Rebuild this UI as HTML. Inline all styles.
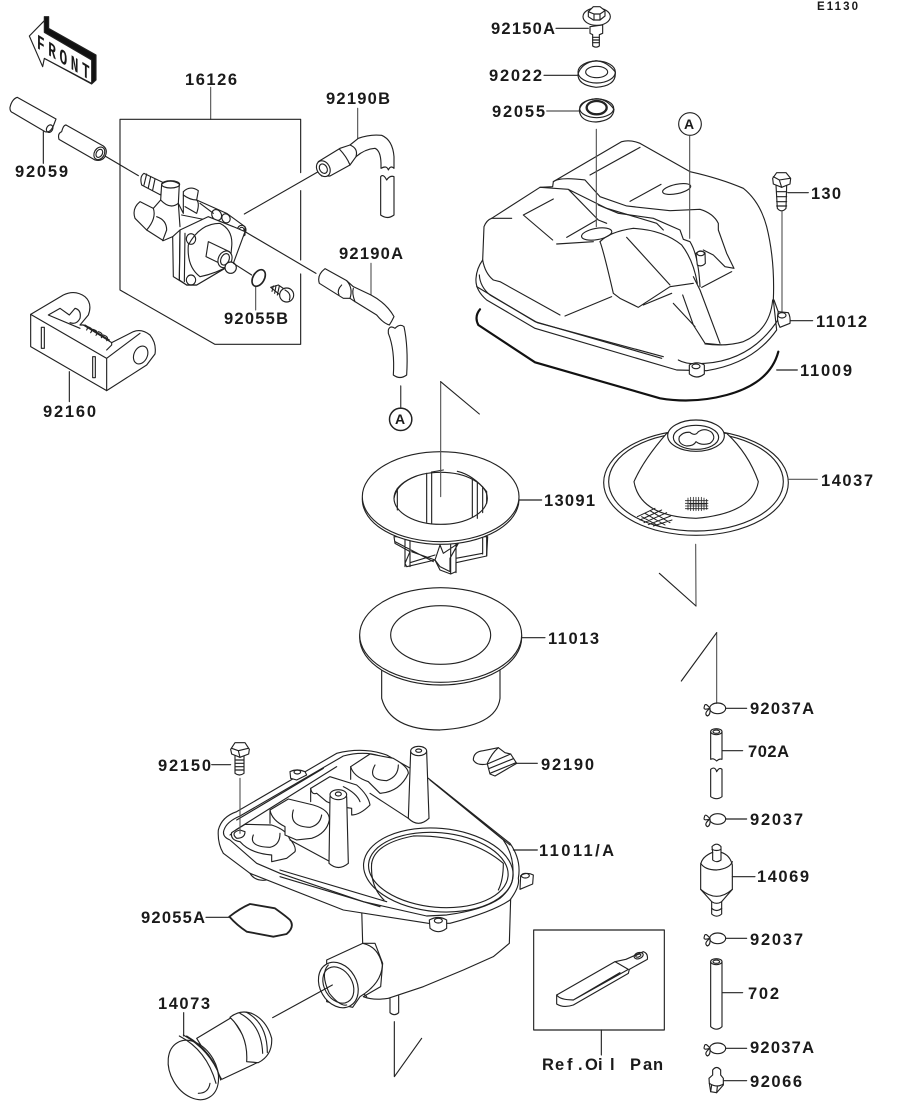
<!DOCTYPE html>
<html><head><meta charset="utf-8"><style>
html,body{margin:0;padding:0;background:#fff;width:914px;height:1103px;overflow:hidden}
svg{display:block}
text{font-family:"Liberation Sans",sans-serif;font-weight:bold;font-size:16.5px;fill:#1a1a1a}
.z path,.z ellipse,.z line,.z polyline,.z polygon,.z rect,.z circle{stroke:#222;stroke-width:3.4;stroke-linecap:round;stroke-linejoin:round}
.z path,.z polyline{fill:none}
.z .w{fill:#fff}
.z .n{fill:none}
.z .g{stroke:#555}
.z .k{stroke:#111;stroke-width:6.5}
</style></head><body>
<svg width="914" height="1103" viewBox="0 0 914 1103" xmlns="http://www.w3.org/2000/svg">
<rect width="914" height="1103" fill="#fff"/>

<g class="z" transform="scale(.33333)">
<!-- FRONT arrow -->
<polygon points="133,50 146,50 146,85 288,165 288,240 275,252 133,175" fill="#111"/>
<polygon class="w" points="88,108 133,62 133,97 275,180 275,250 133,175 128,200"/>
<!-- box + leaders -->
<polyline class="g" points="632,262 632,358"/>
<polyline points="902,518 902,358 360,358 360,870 645,1033 902,1033 902,822"/>
<line x1="902" y1="572" x2="902" y2="780"/>
<line x1="130" y1="395" x2="130" y2="490"/>
<line x1="315" y1="468" x2="415" y2="527"/>
<line x1="955" y1="515" x2="733" y2="642"/>
<line x1="735" y1="695" x2="948" y2="820"/>
<line x1="1073" y1="325" x2="1073" y2="415" class="g"/>
<line x1="1113" y1="790" x2="1113" y2="885" class="g"/>
<line x1="767" y1="860" x2="767" y2="930" class="g"/>
<line x1="1202" y1="1158" x2="1202" y2="1225"/>
<line x1="208" y1="1115" x2="208" y2="1205"/>
<!-- 92059 tube -->
<path d="M168,357 L52,292 Q36,297 30,322 Q29,335 38,338 L135,395 Q150,400 160,378 L168,357"/>
<ellipse class="n" cx="149" cy="386" rx="9" ry="12" transform="rotate(30 149 386)"/>
<path d="M198,375 L310,438 Q325,450 315,470 Q305,485 285,480 L177,418 Q172,400 185,395 Q190,375 198,375"/>
<ellipse class="n" cx="298" cy="460" rx="15" ry="20" transform="rotate(30 298 460)"/>
<ellipse class="n" cx="298" cy="460" rx="9" ry="13" transform="rotate(30 298 460)"/>
<!-- pump -->
<path class="w" d="M432,520 L490,548 L482,585 L425,555 Q418,530 432,520Z"/>
<path d="M440,522 L432,555 M452,530 L445,563 M465,537 L458,570"/>
<path class="w" d="M550,575 Q570,555 595,572 L590,600 L680,640 L735,680 L735,705 L700,730 L700,790 L590,855 L560,855 L520,830 L518,710 L490,722 L440,690 L405,655 Q395,625 420,605 L460,625 L482,600 L485,552 Q510,535 538,552 L535,610 L550,640Z"/>
<ellipse class="n" cx="512" cy="553" rx="27" ry="11"/>
<path d="M482,600 Q510,630 535,610 M460,625 Q470,655 440,690 M470,650 Q500,660 500,690 L488,722 M535,610 L540,680"/>
<path d="M550,585 Q570,600 590,600 M555,620 L590,640 Q600,610 590,600 M600,610 L640,640 M545,645 L620,660"/>
<ellipse class="n" cx="650" cy="645" rx="14" ry="17" transform="rotate(-30 650 645)"/>
<ellipse class="n" cx="678" cy="655" rx="12" ry="14" transform="rotate(-30 678 655)"/>
<ellipse class="n" cx="725" cy="690" rx="13" ry="14"/>
<ellipse class="n" cx="725" cy="690" rx="7" ry="8"/>
<path class="w" d="M540,690 L625,650 L700,680 L735,695 L700,790 L590,855 L560,855 L538,840Z"/>
<path d="M518,710 L540,690 M540,690 L538,840 M555,700 L553,845"/>
<path class="w" d="M565,735 Q600,670 660,670 Q700,690 695,740 L690,795 Q650,820 600,830 Q560,800 565,735Z"/>
<ellipse class="n" cx="573" cy="717" rx="14" ry="16"/>
<ellipse class="n" cx="573" cy="840" rx="14" ry="15"/>
<path class="w" d="M625,725 L688,755 L680,800 L618,770Z"/>
<ellipse class="w" cx="675" cy="778" rx="20" ry="26" transform="rotate(25 675 778)"/>
<ellipse class="n" cx="675" cy="778" rx="12" ry="18" transform="rotate(25 675 778)"/>
<circle class="w" cx="692" cy="803" r="17"/>
<line x1="700" y1="790" x2="755" y2="825"/>
<!-- 92055B -->
<ellipse class="n" cx="776" cy="834" rx="17" ry="27" transform="rotate(30 776 834)" style="stroke-width:5"/>
<path class="w" d="M812,862 L835,855 L860,872 L840,885 Z"/>
<path d="M820,858 L816,874 M828,857 L824,880 M838,858 L832,885"/>
<circle class="w" cx="860" cy="885" r="21"/>
<path d="M855,870 Q875,880 868,900"/>
<!-- 92190B -->
<path class="w" d="M1182,505 L1182,470 Q1178,420 1145,406 Q1110,402 1075,415 L1050,435 L1020,445 L955,485 Q945,505 965,528 L990,528 L1050,495 L1068,470 Q1095,447 1125,445 Q1142,452 1143,490 L1143,505 Q1160,495 1165,510 Q1172,495 1182,505Z"/>
<ellipse class="w" cx="970" cy="506" rx="19" ry="25" transform="rotate(-30 970 506)"/>
<ellipse class="n" cx="970" cy="506" rx="11" ry="15" transform="rotate(-30 970 506)"/>
<path d="M1018,447 Q1040,470 1050,495 M1050,435 Q1075,445 1068,470"/>
<path class="w" d="M1142,530 Q1150,520 1160,540 Q1170,525 1182,530 L1182,645 Q1162,660 1142,645Z"/>
<!-- 92190A -->
<path class="w" d="M975,806 L1040,842 L1060,860 L1113,885 Q1160,910 1182,950 Q1175,965 1168,975 Q1150,970 1130,945 L1065,905 L1050,895 L1030,895 L958,850 Q950,825 975,806Z"/>
<path d="M1025,855 Q1010,870 1017,885 M1040,842 Q1060,865 1050,895 M1060,865 Q1055,880 1065,905"/>
<path class="w" d="M1165,990 Q1170,975 1185,985 Q1200,970 1212,980 Q1225,1040 1220,1125 Q1200,1140 1180,1125 Q1185,1050 1165,1000Z"/>
<!-- circle A -->
<circle class="n" cx="1202" cy="1258" r="34"/>
<!-- bracket 92160 -->
<path class="w" d="M92,943 L190,885 Q225,868 255,890 Q278,910 265,945 L240,975 L250,975 L335,1028 L400,995 Q425,985 450,1005 Q470,1030 465,1062 L440,1095 L320,1172 L92,1040Z"/>
<path d="M92,943 L320,1075 L320,1172 M320,1075 L420,1000 M145,945 L180,925 L208,945 L225,925 Q245,930 240,955 Q230,975 210,968 M145,945 L240,985 M335,1028 L335,1035 L320,1050 M255,975 L328,1020"/>
<ellipse class="n" cx="422" cy="1065" rx="20" ry="28" transform="rotate(25 422 1065)"/>
<path d="M248,975 Q268,978 260,990 M262,980 Q282,985 272,998 M278,988 Q298,993 288,1006 M295,995 Q312,1000 304,1013 M310,1005 Q328,1010 320,1022"/>
<rect class="n" x="124" y="982" width="9" height="63"/>
<rect class="n" x="278" y="1070" width="8" height="63"/>
</g>

<!-- zoom2: tank -->
<g class="z" transform="translate(460,0) scale(.33333)">
<line x1="288" y1="85" x2="385" y2="85"/>
<line x1="252" y1="226" x2="352" y2="226"/>
<line x1="260" y1="333" x2="358" y2="333" class="g"/>
<line x1="983" y1="578" x2="1045" y2="578"/>
<line x1="990" y1="962" x2="1058" y2="962"/>
<line x1="950" y1="1110" x2="1012" y2="1110"/>
<!-- bolt 92150A -->
<path class="w" d="M390,80 L390,100 L398,104 L398,138 Q408,145 418,138 L418,104 L428,100 L428,75Z"/>
<path d="M398,112 L418,112 M398,120 L418,120 M398,128 L418,128"/>
<ellipse class="w" cx="410" cy="50" rx="41" ry="26"/>
<path class="w" d="M385,35 L400,20 L420,20 L435,32 L435,48 L420,60 L400,60 L385,50Z"/>
<path d="M385,35 L402,42 L420,42 L435,32 M402,42 L402,60 M420,42 L420,60"/>
<!-- 92022 -->
<path class="w" d="M354,222 Q352,255 408,262 Q466,258 466,222 L466,216 Q440,184 408,182 Q365,188 354,222Z"/>
<ellipse class="n" cx="410" cy="216" rx="56" ry="33"/>
<ellipse class="n" cx="410" cy="216" rx="33" ry="17"/>
<!-- 92055 -->
<path class="w" d="M358,330 Q360,365 408,366 Q460,362 462,328 Q440,296 408,296 Q365,300 358,330Z"/>
<ellipse class="n" cx="410" cy="325" rx="51" ry="28"/>
<ellipse class="n" cx="410" cy="323" rx="30" ry="20" style="stroke-width:7"/>
<circle class="n" cx="690" cy="372" r="34"/>
<!-- bolt 130 -->
<path class="w" d="M948,555 L952,625 Q965,640 978,625 L980,555Z"/>
<path d="M950,575 L980,575 M950,590 L980,590 M950,605 L980,605 M950,618 L980,618"/>
<path class="w" d="M938,535 L950,518 L978,518 L992,535 L990,552 L965,562 L940,552Z"/>
<path d="M940,530 L958,540 L990,535 M958,540 L965,562"/>
<!-- tank -->
<path class="w" d="M68,780 L72,680 Q80,660 95,655 L240,562 L278,560 L280,545 L485,425 Q510,418 540,430 L690,515 Q780,535 850,565 Q900,605 920,680 Q945,780 940,900 L950,990 Q880,1090 740,1112 L650,1110 L225,985 L80,900 Q45,870 48,835 Q50,805 68,780Z"/>
<path d="M58,825 Q60,860 90,885 L232,968 L610,1070 M655,1080 Q680,1095 735,1090 Q880,1080 960,950 L942,900"/>
<path d="M68,780 Q75,820 100,840 L120,845 L300,945 M50,860 L225,965 L605,1075"/>
<path d="M735,1032 Q800,1040 850,1025 Q930,990 938,900"/>
<path d="M700,830 L720,870 L780,1030 M668,885 L700,975 L735,1030 L785,1035 M640,910 L705,980"/>
<path d="M280,545 Q300,530 375,540 L420,590 L500,618 L630,632 L720,628 Q760,640 775,670 L775,690 L800,760 L822,805 L795,800 L760,765 L730,750 M415,615 L475,640 L580,655 L660,690 L670,718 L690,725 Q715,765 720,860"/>
<path d="M95,655 L155,655 M240,562 L325,568 L415,660 L440,670 M325,568 L440,625 L590,670 L610,690"/>
<path d="M190,645 L278,720 M190,645 L280,597 M390,525 L540,442 M510,604 L603,553 M290,732 L400,725 M320,712 L410,660"/>
<path d="M420,725 Q430,750 460,880 L480,895 L535,922 L630,860 L700,850 M315,948 L455,890 M500,712 L630,855 M550,915 L635,880 M725,862 L815,815"/>
<path d="M420,725 Q450,695 520,685 Q610,690 665,735 Q700,780 712,850"/>
<ellipse class="n" cx="410" cy="702" rx="46" ry="17" transform="rotate(-10 410 702)"/>
<ellipse class="n" cx="650" cy="567" rx="43" ry="14" transform="rotate(-12 650 567)"/>
<line x1="409" y1="388" x2="409" y2="680" class="g"/>
<line x1="689" y1="408" x2="689" y2="715" class="g"/>
<line x1="966" y1="635" x2="966" y2="935" class="g"/>
<!-- boss on tank -->
<path class="w" d="M708,760 L712,795 Q725,802 736,790 L735,758 Q720,748 708,760Z"/>
<ellipse class="n" cx="722" cy="760" rx="11" ry="7"/>
<!-- bosses rim -->
<path class="w" d="M955,935 L985,938 Q992,950 990,970 L960,982 Q948,960 955,935Z"/>
<ellipse class="n" cx="966" cy="946" rx="12" ry="8"/>
<path class="w" d="M688,1095 Q710,1082 733,1095 L733,1122 Q710,1140 688,1122Z"/>
<ellipse class="n" cx="708" cy="1099" rx="12" ry="7"/>
<!-- gasket -->
<path class="k" d="M60,928 Q42,950 55,975 L225,1087 L600,1195 Q700,1212 800,1185 Q930,1150 955,1055"/>
</g>

<!-- zoom4 -->
<g class="z" transform="translate(340,370) scale(.33333)">
<line x1="182" y1="48" x2="182" y2="112" class="g"/>
<circle class="n" cx="182" cy="148" r="33"/>
<!-- 13091 cage -->
<path class="w" d="M162,500 L165,520 L210,545 L195,580 L200,590 L285,570 L300,600 L332,612 L348,605 L348,578 L440,558 L443,500Z"/>
<path d="M195,510 L195,590 M210,510 L210,590 M332,510 L332,610 M348,510 L348,608 M428,500 L428,552 M440,500 L440,558 M210,578 L285,555 M348,565 L428,550 M165,515 L280,575 M215,545 L285,570 L300,525 L310,550 L355,520 L330,565 L330,605 L300,590 L285,570"/>
<!-- 13091 flange -->
<ellipse class="w" cx="302" cy="388" rx="235" ry="135"/>
<ellipse class="w" cx="302" cy="380" rx="235" ry="135"/>
<ellipse class="w" cx="302" cy="385" rx="140" ry="78"/>
<path d="M162,385 Q170,340 230,318 M172,355 L172,420 M260,310 L260,457 M275,306 L275,460 M397,330 L397,440 M412,338 L412,445 M428,350 L428,428 M440,365 L440,400 M275,306 L310,300 M352,304 Q400,315 440,365"/>
<line x1="302" y1="35" x2="302" y2="380" class="g"/>
<line x1="302" y1="35" x2="418" y2="132"/>
<line x1="537" y1="390" x2="605" y2="390"/>
<!-- 11013 -->
<path class="w" d="M125,900 L125,985 Q150,1080 300,1080 Q470,1070 480,985 L480,900Z"/>
<ellipse class="w" cx="302" cy="803" rx="243" ry="142"/>
<ellipse class="w" cx="302" cy="795" rx="243" ry="142"/>
<ellipse class="n" cx="302" cy="795" rx="150" ry="88"/>
<line x1="547" y1="803" x2="615" y2="803"/>
<!-- 14037 -->
<ellipse class="w" cx="1068" cy="338" rx="277" ry="158"/>
<ellipse class="n" cx="1068" cy="335" rx="262" ry="148"/>
<path class="w" d="M980,190 Q910,270 882,335 Q900,440 1068,445 Q1240,430 1255,335 Q1225,250 1160,190Z"/>
<ellipse class="w" cx="1068" cy="197" rx="85" ry="47"/>
<ellipse class="n" cx="1068" cy="202" rx="68" ry="36"/>
<path d="M1050,187 Q1030,185 1018,200 Q1012,222 1040,228 Q1062,228 1068,215 Q1085,228 1110,220 Q1130,205 1115,187 Q1095,172 1075,185 Q1065,200 1050,187Z"/>
<path d="M1048,402H1100M1036,392H1104M1036,400H1104M1036,408H1104M1036,416H1104M1044,384V420M1052,382V422M1060,382V422M1068,382V422M1076,382V422M1084,382V422M1092,384V420M1100,388V418" style="stroke-width:2.4"/>
<path d="M892,440L945,415M900,450L965,420M912,458L980,428M925,464L992,438M940,468L996,450M915,430L975,465M930,422L990,458M905,440L960,470" style="stroke-width:3"/>
<line x1="1347" y1="328" x2="1432" y2="328" class="g"/>
<!-- leaders -->
<polyline class="g" points="1067,523 1068,708"/>
<line x1="1068" y1="708" x2="958" y2="610"/>
<line x1="1130" y1="788" x2="1130" y2="1000" class="g"/>
<line x1="1130" y1="788" x2="1024" y2="933"/>
</g>

<!-- zoom3 -->
<g class="z" transform="translate(130,730) scale(.33333)">
<!-- main housing lower -->
<path class="w" d="M695,535 L698,640 L735,640 L758,700 L752,770 L700,800 Q730,812 775,805 L880,770 L1000,720 L1090,680 L1138,640 L1142,505Z"/>
<path d="M710,800 L690,780"/>
<path class="w" d="M780,805 L780,848 Q793,860 806,848 L806,798"/>
<!-- outlet collar -->
<path class="w" d="M590,690 L698,640 Q745,650 757,705 Q755,760 690,800 L668,832 L590,815Z"/>
<ellipse class="w" cx="625" cy="765" rx="55" ry="72" transform="rotate(-30 625 765)"/>
<ellipse class="n" cx="625" cy="765" rx="42" ry="58" transform="rotate(-30 625 765)"/>
<path d="M595,705 Q570,730 598,790 Q630,830 650,825"/>
<line x1="607" y1="765" x2="428" y2="863"/>
<!-- tray -->
<path class="w" d="M265,300 Q275,260 320,245 L620,70 Q700,50 770,75 L895,145 L1140,340 Q1175,390 1165,445 Q1170,470 1140,510 Q1090,545 960,580 L895,580 L640,540 L360,430 L280,370 Q262,340 265,300Z"/>
<path class="n" d="M282,300 Q290,275 330,258 L640,78 Q700,62 750,78 M900,150 L1120,330 Q1155,380 1148,445 Q1145,475 1110,505 Q1060,540 950,555 L890,558 L700,515 L450,430 L380,400 L300,330 Q275,320 282,300"/>
<path class="n" d="M300,315 L320,298 L620,110 M320,270 L580,115 M920,165 L1140,345 M450,440 L750,530 M450,420 L770,515"/>
<!-- big oval -->
<ellipse class="n" cx="925" cy="420" rx="225" ry="125" transform="rotate(5 925 420)" />
<ellipse class="n" cx="925" cy="420" rx="210" ry="112" transform="rotate(5 925 420)"/>
<path class="n" d="M725,400 Q735,340 850,318 Q1020,315 1120,400 Q1120,450 1105,480"/>
<path class="n" d="M762,510 Q720,470 725,400"/>
<!-- pads -->
<g id="pad">
<path class="w" d="M305,308 L345,283 L425,285 Q470,300 478,325 Q500,350 495,365 L470,385 L425,395 L425,375 Q360,370 330,335 Q300,330 305,308Z"/>
<path class="n" d="M330,300 Q300,308 320,325 Q345,325 345,305Z"/>
<path class="n" d="M370,315 Q355,350 420,352 Q450,345 450,310"/>
</g>
<path class="w" d="M420,240 L475,207 L550,225 Q600,240 598,270 Q590,310 545,325 L500,330 L465,315 L465,290 Q425,270 420,240Z"/>
<path class="n" d="M490,240 Q475,290 540,292 Q570,285 575,255"/>
<path class="w" d="M542,175 L600,140 L680,165 Q715,195 720,225 Q690,255 665,255 L665,235 Q620,230 590,215 L560,190 Q545,195 542,175Z"/>
<path class="n" d="M640,170 Q680,190 690,215"/>
<path class="w" d="M662,110 L720,72 L790,85 Q835,110 835,130 Q810,185 750,190 L715,155 Q670,140 662,110Z"/>
<path class="n" d="M735,105 Q710,150 770,152 Q805,140 805,105 M662,110 L662,148 M420,240 L420,280 M542,175 L542,215"/>
<!-- lines to posts -->
<path class="n" d="M480,330 L600,395 M720,190 L835,265"/>
<!-- posts -->
<path class="w" d="M600,200 L597,400 Q625,425 655,400 L650,200Z"/>
<ellipse class="w" cx="625" cy="194" rx="25" ry="15"/>
<ellipse class="n" cx="625" cy="192" rx="9" ry="6"/>
<path class="w" d="M842,65 L835,265 Q865,295 897,265 L890,65Z"/>
<ellipse class="w" cx="866" cy="63" rx="24" ry="14"/>
<ellipse class="n" cx="866" cy="62" rx="9" ry="5"/>
<!-- bosses -->
<path class="w" d="M1172,437 Q1190,425 1210,435 L1208,462 L1170,478Z"/>
<ellipse class="n" cx="1186" cy="437" rx="12" ry="7"/>
<path class="w" d="M898,570 Q925,555 950,570 L950,595 Q925,615 900,595Z"/>
<ellipse class="n" cx="925" cy="572" rx="12" ry="7"/>
<path class="w" d="M480,125 Q500,115 525,125 L530,135 L500,150 L482,145Z"/>
<ellipse class="n" cx="502" cy="126" rx="10" ry="6"/>
<path class="n" d="M360,430 Q375,455 410,450"/>
<!-- bolt 92150 -->
<path class="w" d="M315,75 L315,130 Q328,140 342,130 L342,75Z"/>
<path d="M315,90L342,90M315,100L342,100M315,110L342,110M315,120L342,120"/>
<path class="w" d="M302,58 L315,38 L345,38 L358,58 L356,72 L330,82 L305,72Z"/>
<path d="M305,55 L325,62 L355,55 M325,62 L330,82"/>
<line x1="330" y1="145" x2="330" y2="310" class="g"/>
<line x1="245" y1="104" x2="302" y2="104"/>
<line x1="1160" y1="100" x2="1222" y2="100"/>
<line x1="1150" y1="360" x2="1222" y2="360"/>
<!-- 92190 elbow -->
<path class="w" d="M1030,90 Q1030,65 1060,62 L1105,53 L1125,68 L1142,72 L1160,100 L1095,138 L1080,132 L1072,102 Q1040,108 1030,90Z"/>
<path d="M1072,102 L1142,72 M1076,116 L1150,86 M1080,130 L1158,98 M1105,53 Q1085,70 1072,100"/>
<!-- 92055A gasket -->
<path d="M298,560 Q330,535 360,522 L435,535 Q470,560 480,570 Q495,590 470,612 L430,620 L350,605 Q320,585 298,560Z" style="stroke-width:5.5;fill:none"/>
<line x1="228" y1="562" x2="298" y2="562"/>
<!-- 14073 -->
<path class="w" d="M200,925 L305,862 L388,995 L275,1048Z"/>
<path class="w" d="M300,862 Q330,838 365,850 Q410,870 425,925 Q428,975 385,998 L350,995 Q355,915 300,862Z"/>
<path d="M330,850 Q395,885 398,970 M348,846 Q412,880 412,968"/>
<ellipse class="w" cx="190" cy="1020" rx="68" ry="95" transform="rotate(-30 190 1020)"/>
<path d="M160,915 Q240,960 270,1040 M170,918 Q250,965 272,1050 M148,918 Q230,960 258,1060 M240,1060 Q235,1090 205,1090"/>
<line x1="161" y1="848" x2="161" y2="918"/>
<!-- leaders -->
<polyline points="793,875 793,1040 875,925"/>
</g>

<!-- zoom5 -->
<g class="z" transform="translate(520,690) scale(.33333)">
<!-- ref box -->
<rect class="n" x="41" y="720" width="392" height="300"/>
<line x1="244" y1="1020" x2="244" y2="1095"/>
<path class="w" d="M110,915 L285,815 L318,808 L370,785 Q385,790 382,808 L328,838 L325,850 L160,945 Q130,955 110,942Z"/>
<path d="M110,915 Q120,930 160,930 L325,838 M285,815 L325,838 M160,930 L300,848"/>
<ellipse class="n" cx="356" cy="797" rx="14" ry="9" transform="rotate(-20 356 797)"/>
<ellipse class="n" cx="355" cy="797" rx="8" ry="4" transform="rotate(-20 355 797)"/>
<!-- clamps -->
<g id="c1">
<ellipse class="n" cx="593" cy="55" rx="24" ry="16"/>
<path d="M570,55 Q555,35 553,50 Q548,62 570,55 Q550,70 562,78 Q572,75 570,55"/>
</g>
<use href="#c1" y="332"/>
<use href="#c1" y="690"/>
<use href="#c1" y="1020"/>
<line x1="617" y1="55" x2="680" y2="55"/>
<line x1="617" y1="387" x2="680" y2="387"/>
<line x1="617" y1="745" x2="680" y2="745"/>
<line x1="617" y1="1075" x2="680" y2="1075"/>
<!-- 702A -->
<path class="w" d="M572,125 L572,208 Q580,203 590,213 Q598,205 606,208 L606,125Z"/>
<ellipse class="w" cx="589" cy="125" rx="17" ry="9"/>
<ellipse class="n" cx="589" cy="125" rx="10" ry="5"/>
<line x1="608" y1="182" x2="668" y2="182"/>
<path class="w" d="M572,238 Q585,228 590,245 Q598,230 606,238 L606,320 Q590,332 572,320Z"/>
<!-- 14069 -->
<path class="w" d="M576,470 L578,487 Q545,500 542,525 L542,598 L575,635 L575,672 Q590,685 605,672 L605,635 L637,598 L637,525 Q630,495 603,487 L603,470 Q590,455 576,470Z"/>
<path d="M542,520 Q555,540 590,540 Q630,535 637,515 M578,487 L578,510 Q590,520 603,510 L603,487 M575,635 Q590,645 605,635 M542,598 Q590,640 637,598 M575,655 Q590,668 605,655 M576,478 Q590,485 603,478"/>
<line x1="637" y1="560" x2="705" y2="560"/>
<!-- 702 -->
<path class="w" d="M572,815 L572,1010 Q590,1025 606,1010 L606,815Z"/>
<ellipse class="w" cx="589" cy="815" rx="17" ry="9"/>
<ellipse class="n" cx="589" cy="815" rx="10" ry="5"/>
<line x1="608" y1="908" x2="668" y2="908"/>
<!-- 92066 -->
<path class="w" d="M578,1140 Q590,1125 602,1140 L602,1155 L610,1165 L610,1185 L590,1208 L572,1205 L568,1180 L567,1165 L578,1155Z"/>
<path d="M568,1180 Q590,1195 610,1182 M572,1205 L575,1185 M590,1208 L592,1190"/>
<line x1="612" y1="1172" x2="680" y2="1172"/>
</g>

<!-- labels -->
<text transform="matrix(.85 .52 0 1.4 37 48)" x="0" y="0" textLength="62" style="font-family:'Liberation Mono',monospace;font-size:15px">FRONT</text>
<text x="185" y="85" textLength="52">16126</text>
<text x="326" y="104" textLength="64">92190B</text>
<text x="15" y="177" textLength="53">92059</text>
<text x="339" y="259" textLength="64">92190A</text>
<text x="224" y="324" textLength="64">92055B</text>
<text x="43" y="417" textLength="53">92160</text>
<text x="817" y="10" textLength="41" style="font-size:11.5px">E1130</text>
<text x="491" y="34" textLength="64">92150A</text>
<text x="489" y="81" textLength="53">92022</text>
<text x="492" y="117" textLength="53">92055</text>
<text x="811" y="199" textLength="30">130</text>
<text x="816" y="327" textLength="51">11012</text>
<text x="800" y="376" textLength="52">11009</text>
<text x="544" y="506" textLength="51">13091</text>
<text x="821" y="486" textLength="52">14037</text>
<text x="548" y="644" textLength="51">11013</text>
<text x="750" y="714" textLength="64">92037A</text>
<text x="748" y="757" textLength="41">702A</text>
<text x="541" y="770" textLength="53">92190</text>
<text x="750" y="825" textLength="53">92037</text>
<text x="539" y="856" textLength="75">11011/A</text>
<text x="757" y="882" textLength="52">14069</text>
<text x="750" y="945" textLength="53">92037</text>
<text x="748" y="999" textLength="31">702</text>
<text x="750" y="1053" textLength="64">92037A</text>
<text x="750" y="1087" textLength="52">92066</text>
<text x="542 555 567 578 585 598 610" y="1070">Ref.Oil</text>
<text x="630 643 653" y="1070">Pan</text>
<text x="158" y="771" textLength="53">92150</text>
<text x="141" y="923" textLength="64">92055A</text>
<text x="158" y="1009" textLength="52">14073</text>
<text x="395" y="424" style="font-size:14px">A</text>
<text x="684" y="129" style="font-size:14px">A</text>
</svg>
</body></html>
